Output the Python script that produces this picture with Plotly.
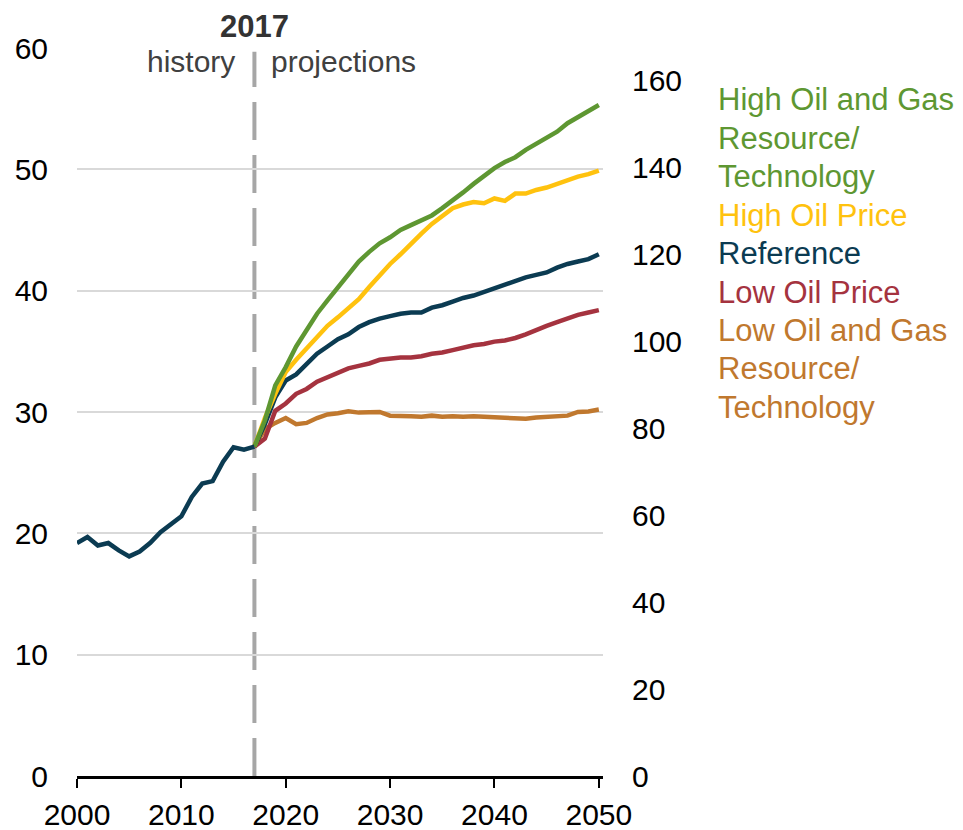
import plotly.graph_objects as go

hist_years = list(range(2000, 2018))
hist_vals = [19.2, 19.7, 19.0, 19.2, 18.6, 18.1, 18.5, 19.2, 20.1, 20.7, 21.4,
             23.0, 24.1, 24.3, 25.9, 27.1, 26.9, 27.15]

proj_years = list(range(2017, 2051))
high_og = [27.15, 29.3, 32.2, 33.7, 35.4, 36.7, 38.1, 39.2, 40.3, 41.4, 42.4,
           43.2, 43.9, 44.4, 45.0, 45.4, 45.8, 46.2, 46.8, 47.4, 48.1, 48.8,
           49.5, 50.1, 50.6, 51.0, 51.6, 52.1, 52.5, 53.1, 53.8, 54.3, 54.7, 55.3]
high_price = [27.15, 29.5, 31.5, 33.3, 34.3, 35.2, 36.2, 37.1, 37.8, 38.5, 39.3,
              40.3, 41.3, 42.2, 43.0, 43.9, 44.7, 45.5, 46.2, 46.8, 47.1, 47.3,
              47.2, 47.6, 47.4, 48.0, 48.0, 48.3, 48.5, 48.8, 49.1, 49.4, 49.6, 49.9]
reference = [27.15, 29.0, 31.2, 32.6, 33.1, 34.0, 34.8, 35.4, 36.0, 36.4, 37.0,
             37.4, 37.7, 37.9, 38.1, 38.2, 38.2, 38.6, 38.8, 39.1, 39.4, 39.6,
             39.9, 40.2, 40.5, 40.8, 41.1, 41.3, 41.5, 41.9, 42.2, 42.4, 42.6, 43.0]
low_price = [27.15, 27.8, 30.1, 30.7, 31.5, 31.9, 32.5, 32.9, 33.3, 33.6, 33.8,
             34.0, 34.3, 34.4, 34.5, 34.5, 34.6, 34.8, 34.9, 35.1, 35.3, 35.5,
             35.6, 35.8, 35.9, 36.1, 36.4, 36.8, 37.1, 37.4, 37.7, 38.0, 38.2, 38.4]
low_og = [27.15, 28.6, 29.1, 29.5, 29.0, 29.1, 29.5, 29.8, 29.9, 30.05, 29.95,
          29.95, 30.0, 29.7, 29.7, 29.65, 29.6, 29.7, 29.6, 29.65, 29.6, 29.65,
          29.6, 29.55, 29.5, 29.45, 29.45, 29.55, 29.6, 29.65, 29.7, 30.0, 30.05, 30.2]

series_names = ["High Oil and Gas Resource/ Technology", "High Oil Price", "Reference",
                "Low Oil Price", "Low Oil and Gas Resource/ Technology"]
legend_lines = [["High Oil and Gas", "Resource/", "Technology"], ["High Oil Price"],
                ["Reference"], ["Low Oil Price"], ["Low Oil and Gas", "Resource/", "Technology"]]
colors = ["#5e9732", "#ffc20e", "#0b3b52", "#a5333f", "#c0782e"]

left_ticks = [0, 10, 20, 30, 40, 50, 60]
right_ticks = [0, 20, 40, 60, 80, 100, 120, 140, 160]
x_ticks = [2000, 2010, 2020, 2030, 2040, 2050]

FONT = "Liberation Sans, Arial, sans-serif"

fig = go.Figure()

proj_series = [high_og, high_price, reference, low_price, low_og]
for name, vals, col in reversed(list(zip(series_names, proj_series, colors))):
    fig.add_trace(go.Scatter(x=proj_years, y=vals, mode="lines", name=name,
                             line=dict(color=col, width=4.5), showlegend=False))
fig.add_trace(go.Scatter(x=hist_years, y=hist_vals, mode="lines", name="History",
                         line=dict(color=colors[2], width=4.5), showlegend=False))
fig.add_trace(go.Scatter(x=[None], y=[None], yaxis="y2", showlegend=False, hoverinfo="skip"))

fig.add_shape(type="line", x0=2017, x1=2017, xref="x", y0=0, y1=59.7, yref="y",
              line=dict(color="#a6a6a6", width=4, dash="38px,15px"), layer="below")

fig.add_annotation(x=2017, y=1.0, xref="x", yref="paper", text="<b>2017</b>", showarrow=False,
                   yanchor="bottom", yshift=2, font=dict(size=31, color="#333333", family=FONT))
fig.add_annotation(x=2015.3, y=1.0, xref="x", yref="paper", text="history", showarrow=False,
                   xanchor="right", yanchor="top", yshift=5,
                   font=dict(size=30, color="#404040", family=FONT))
fig.add_annotation(x=2018.4, y=1.0, xref="x", yref="paper", text="projections", showarrow=False,
                   xanchor="left", yanchor="top", yshift=5,
                   font=dict(size=30, color="#404040", family=FONT))

# page body has an 8px margin, plot area positions are relative to the figure div
OFF = 8
line_y_px = 100
for lines, col in zip(legend_lines, colors):
    for ln in lines:
        fig.add_annotation(x=(716 - 77) / 526, y=(776 - line_y_px) / 728, xref="paper", yref="paper",
                           text=ln, showarrow=False, xanchor="left", yanchor="middle",
                           font=dict(size=31, color=col, family=FONT))
        line_y_px += 38.4

fig.update_layout(
    width=963 - OFF, height=830 - OFF,
    margin=dict(l=77 - OFF, r=360, t=48 - OFF, b=54, autoexpand=False),
    paper_bgcolor="white", plot_bgcolor="white",
    font=dict(family=FONT, size=30, color="black"),
    xaxis=dict(range=[2000, 2050.4], tickvals=x_ticks, ticks="outside", ticklen=9,
               tickwidth=2, tickcolor="black", showline=True, linecolor="black", linewidth=2.5,
               showgrid=False, zeroline=False, ticklabelstandoff=1, automargin=False,
               tickfont=dict(size=30, family=FONT, color="black")),
    yaxis=dict(range=[0, 60], tickvals=left_ticks, showgrid=True, gridcolor="#d9d9d9",
               gridwidth=1.5, zeroline=False, showline=False, ticks="", automargin=False,
               ticklabelstandoff=28, tickfont=dict(size=30, family=FONT, color="black")),
    yaxis2=dict(range=[0, 167.5], tickvals=right_ticks, overlaying="y", side="right",
                showgrid=False, zeroline=False, showline=False, ticks="", automargin=False,
                ticklabelstandoff=28, tickfont=dict(size=30, family=FONT, color="black")),
)

fig.write_html("out.html")
